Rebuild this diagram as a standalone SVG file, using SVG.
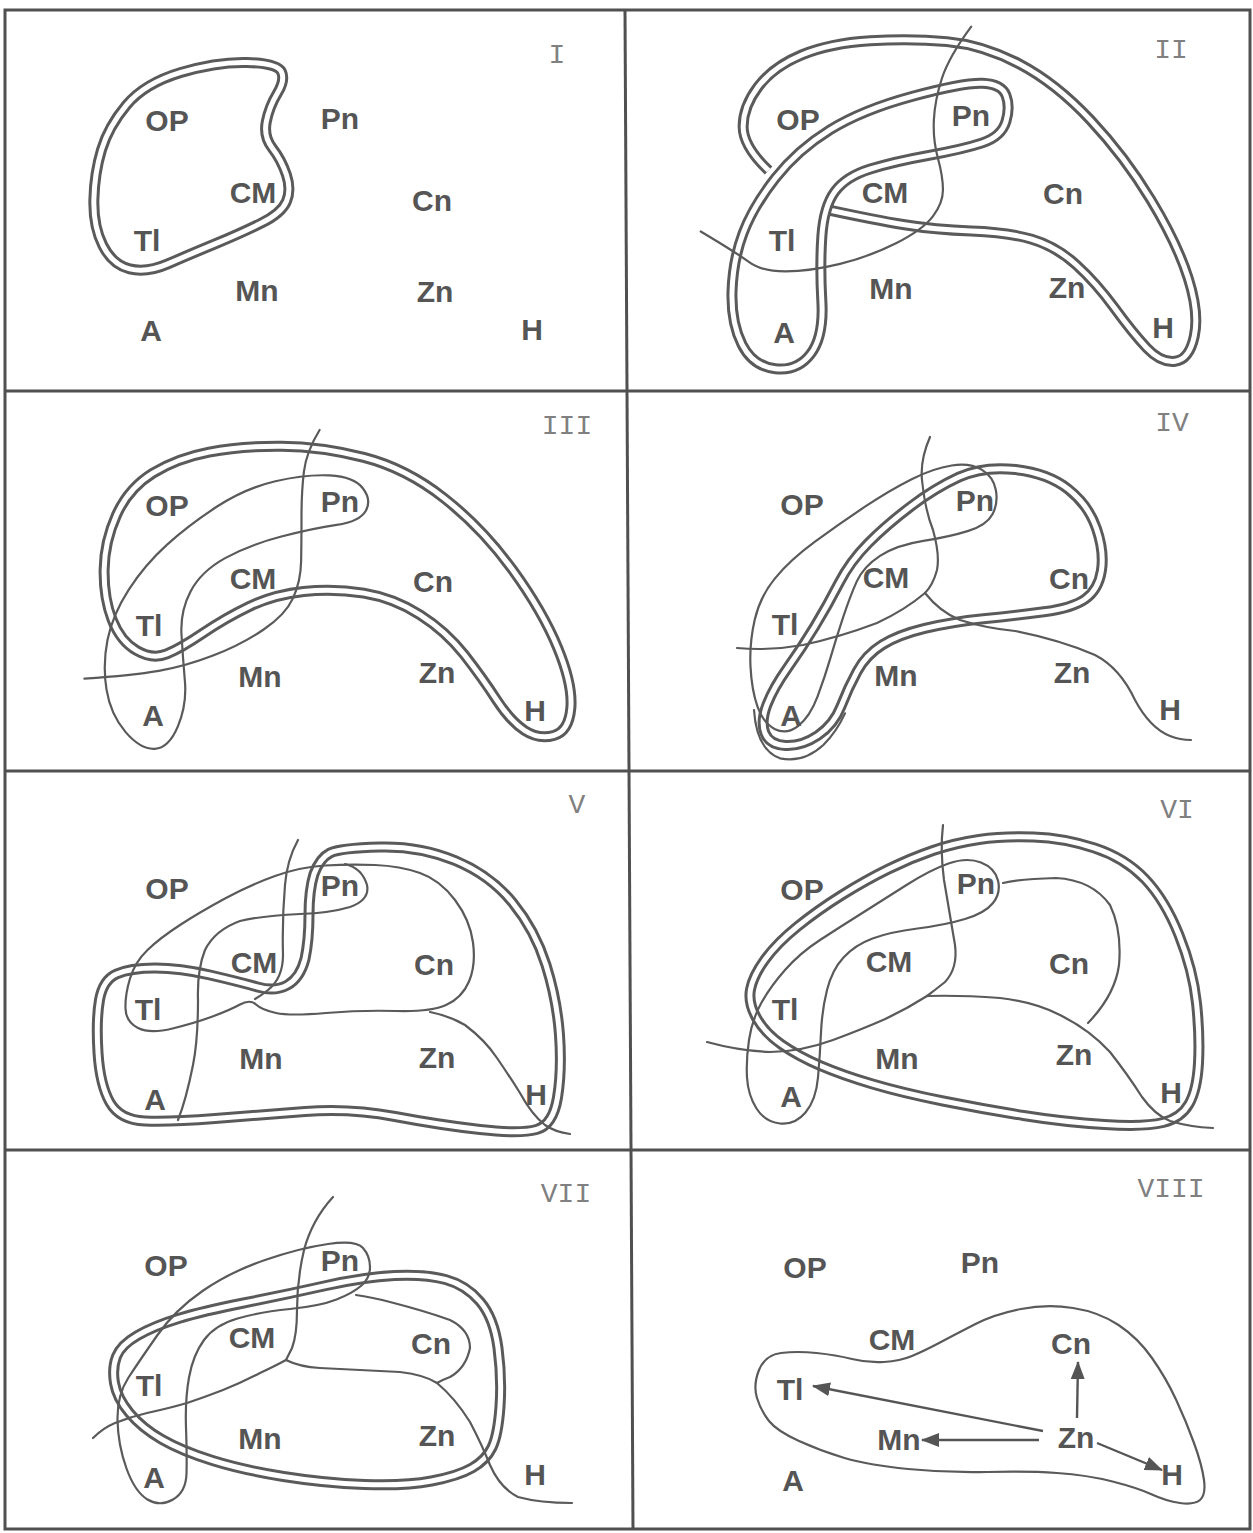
<svg xmlns="http://www.w3.org/2000/svg" width="1253" height="1533" viewBox="0 0 1253 1533">
<style>
.frame{fill:none;stroke:#505050;stroke-width:3}
.dbl{fill:none;stroke:#5a5a5a;stroke-width:11;stroke-linejoin:round}
.dblw{fill:none;stroke:#ffffff;stroke-width:5;stroke-linejoin:round}
.thin{fill:none;stroke:#5a5a5a;stroke-width:2.2;stroke-linejoin:round;stroke-linecap:round}
.lb{font-family:"Liberation Sans",Arial,sans-serif;font-weight:bold;font-size:30px;fill:#555;text-anchor:middle}
.rn{font-family:"Liberation Mono","Courier New",monospace;font-size:28px;fill:#808080;text-anchor:middle}
.arrow{fill:none;stroke:#555;stroke-width:2.4;marker-end:url(#ah)}
</style>
<defs>
<marker id="ah" markerUnits="userSpaceOnUse" markerWidth="18" markerHeight="14" refX="17" refY="7" orient="auto"><path d="M0,0 L18,7 L0,14 Z" fill="#555"/></marker>
<!-- Panel I (zoom coords) -->
<path id="p1t" vector-effect="non-scaling-stroke" d="M 615 187.5 Q 690 190 700 215 Q 710 240 690 280 Q 670 320 662.5 365 Q 655 410 677.5 445 Q 700 480 712.5 525 Q 725 570 712.5 605 Q 700 640 650 670 Q 600 700 535 732.5 Q 470 765 417.5 792.5 Q 365 820 322.5 807.5 Q 280 795 256 737.5 Q 232 680 233.5 600 Q 235 520 252.5 450 Q 270 380 315 315 Q 360 250 450 217.5 Q 540 185 615 187.5 Z"/>
<!-- Panel II -->
<path id="p2a" vector-effect="non-scaling-stroke" d="M 368 512 Q 305 440 305 380 Q 305 320 342.5 260 Q 380 200 450 165 Q 520 130 620 122.5 Q 720 115 810 125 Q 900 135 990 192.5 Q 1080 250 1165 360 Q 1250 470 1315 600 Q 1380 730 1407.5 835 Q 1435 940 1422.5 1010 Q 1410 1080 1375 1085 Q 1340 1090 1305 1045 Q 1270 1000 1225 925 Q 1180 850 1130 795 Q 1080 740 1020 718.5 Q 960 697 870 693.5 Q 780 690 705 675 Q 630 660 515 630"/>
<path id="p2b" vector-effect="non-scaling-stroke" d="M 897.5 250 Q 945 252 956 286 Q 967 320 956 365 Q 945 410 897.5 429 Q 850 448 765 466.5 Q 680 485 620 507.5 Q 560 530 532.5 575 Q 505 620 500 710 Q 495 800 500 905 Q 505 1010 472.5 1062.5 Q 440 1115 385 1107.5 Q 330 1100 302.5 1035 Q 275 970 277.5 875 Q 280 780 305 700 Q 330 620 385 535 Q 440 450 520 390 Q 600 330 725 289 Q 850 248 897.5 250 Z"/>
<!-- Panel III -->
<path id="p3t" vector-effect="non-scaling-stroke" d="M 700 184 Q 800 185 905 217.5 Q 1010 250 1105 340 Q 1200 430 1275 555 Q 1350 680 1387.5 790 Q 1425 900 1420 970 Q 1415 1040 1377.5 1052.5 Q 1340 1065 1305 1037.5 Q 1270 1010 1235 945 Q 1200 880 1155 810 Q 1110 740 1045 690 Q 980 640 905 625 Q 830 610 755 620 Q 680 630 620 665 Q 560 700 505 745 Q 450 790 415 807.5 Q 380 825 340 797.5 Q 300 770 279 705 Q 258 640 259 555 Q 260 470 290 390 Q 320 310 380 265 Q 440 220 520 201.5 Q 600 183 700 184 Z"/>
<!-- Panel IV -->
<path id="p4t" vector-effect="non-scaling-stroke" d="M 980 254 Q 1060 265 1110 312.5 Q 1160 360 1180 430 Q 1200 500 1192.5 557.5 Q 1185 615 1152.5 642.5 Q 1120 670 1050 681 Q 980 692 900 702 Q 820 712 755 731 Q 690 750 650 780 Q 610 810 587.5 860 Q 565 910 547.5 965 Q 530 1020 490 1052.5 Q 450 1085 410 1082.5 Q 370 1080 359 1045 Q 348 1010 364 960 Q 380 910 415 850 Q 450 790 482.5 725 Q 515 660 542.5 595 Q 570 530 615 475 Q 660 420 720 365 Q 780 310 840 276.5 Q 900 243 980 254 Z"/>
<!-- Panel V -->
<path id="p5t" d="M 380 847 Q 420 846 455 860.5 Q 490 875 512.5 902.5 Q 535 930 546 965 Q 557 1000 559.5 1035 Q 562 1070 557.5 1097.5 Q 553 1125 536.5 1129.5 Q 520 1134 480 1129.5 Q 440 1125 395 1116.5 Q 350 1108 305 1111.5 Q 260 1115 215 1118.5 Q 170 1122 145 1121 Q 120 1120 110 1102.5 Q 100 1085 98 1052.5 Q 96 1020 99.5 1000 Q 103 980 116.5 974 Q 130 968 155 968 Q 180 968 210 975 Q 240 982 257.5 987 Q 275 992 287.5 985 Q 300 978 305 959 Q 309 940 309 915 Q 309 890 314 874 Q 320 858 330 853 Q 340 848 380 847 Z"/>
<!-- Panel VI -->
<path id="p6t" d="M 1033.5 837 Q 1064 838 1094.5 848 Q 1125 858 1145 879 Q 1165 900 1179 935 Q 1193 970 1196.5 1003 Q 1200 1036 1198.5 1063 Q 1197 1090 1189 1104 Q 1181 1118 1163 1122.5 Q 1145 1127 1104.5 1124.5 Q 1064 1122 1023.5 1115.5 Q 983 1109 943 1101 Q 903 1093 872.5 1084 Q 842 1075 820 1065.5 Q 798 1056 781.5 1044.5 Q 765 1033 756.5 1018 Q 748 1003 750.5 989.5 Q 753 976 765 959.5 Q 777 943 797.5 926.5 Q 818 910 842 895 Q 866 880 888.5 869 Q 911 858 933 850.5 Q 955 843 979 839.5 Q 1003 836 1033.5 837 Z"/>
<!-- Panel VII -->
<path id="p7t" d="M 394.5 1275.5 Q 425 1274 445.5 1279.5 Q 466 1285 480 1301.5 Q 494 1318 498 1348 Q 502 1378 500 1406.5 Q 498 1435 492 1447.5 Q 486 1460 472 1468 Q 458 1476 431.5 1481 Q 405 1486 364.5 1484.5 Q 324 1483 283.5 1476.5 Q 243 1470 212.5 1460.5 Q 182 1451 162 1439.5 Q 142 1428 129.5 1413 Q 117 1398 114.5 1383 Q 112 1368 116.5 1356.5 Q 121 1345 137.5 1335.5 Q 154 1326 178.5 1318.5 Q 203 1311 243.5 1303 Q 284 1295 324 1286 Q 364 1277 394.5 1275.5 Z"/>
</defs>

<rect width="1253" height="1533" fill="#ffffff"/>

<g id="frame">
<rect class="frame" x="5" y="10" width="1245" height="1519"/>
<line class="frame" x1="625" y1="10" x2="633" y2="1529"/>
<line class="frame" x1="5" y1="391" x2="1250" y2="391"/>
<line class="frame" x1="5" y1="771" x2="1250" y2="771"/>
<line class="frame" x1="5" y1="1150" x2="1250" y2="1150"/>
</g>

<g id="panel-I">
<g transform="translate(0,0) scale(0.402,0.333)">
<use href="#p1t" class="dbl"/><use href="#p1t" class="dblw"/>
</g>
<text class="rn" x="557" y="63">I</text>
<text id="I-OP" class="lb" x="167" y="131">OP</text>
<text id="I-Pn" class="lb" x="340" y="129">Pn</text>
<text id="I-CM" class="lb" x="253" y="203">CM</text>
<text id="I-Cn" class="lb" x="432" y="211">Cn</text>
<text id="I-Tl" class="lb" x="147" y="251">Tl</text>
<text id="I-Mn" class="lb" x="257" y="301">Mn</text>
<text id="I-Zn" class="lb" x="435" y="302">Zn</text>
<text id="I-A" class="lb" x="151" y="341">A</text>
<text id="I-H" class="lb" x="532" y="340">H</text>
</g>

<g id="panel-II">
<g transform="translate(620,0) scale(0.4037,0.333)">
<use href="#p2a" class="dbl"/><use href="#p2a" class="dblw"/>
<use href="#p2b" class="dbl"/><use href="#p2b" class="dblw"/>
<path class="thin" vector-effect="non-scaling-stroke" d="M 870 80 Q 815 170 797.5 235 Q 780 300 777.5 360 Q 775 420 787.5 475 Q 800 530 800 570 Q 800 610 775 650 Q 750 690 685 730 Q 620 770 545 792.5 Q 470 815 410 815 Q 350 815 320 787.5 Q 290 760 200 695"/>
</g>
<text class="rn" x="1171" y="58">II</text>
<text id="II-OP" class="lb" x="798" y="130">OP</text>
<text id="II-Pn" class="lb" x="971" y="126">Pn</text>
<text id="II-CM" class="lb" x="885" y="203">CM</text>
<text id="II-Cn" class="lb" x="1063" y="204">Cn</text>
<text id="II-Tl" class="lb" x="782" y="251">Tl</text>
<text id="II-Mn" class="lb" x="891" y="299">Mn</text>
<text id="II-Zn" class="lb" x="1067" y="298">Zn</text>
<text id="II-A" class="lb" x="784" y="343">A</text>
<text id="II-H" class="lb" x="1163" y="338">H</text>
</g>

<g id="panel-III">
<g transform="translate(0,385) scale(0.402,0.333)">
<use href="#p3t" class="dbl"/><use href="#p3t" class="dblw"/>
<path class="thin" vector-effect="non-scaling-stroke" d="M 820 271.5 Q 880 275 902.5 310 Q 925 345 910 377.5 Q 895 410 837.5 420 Q 780 430 700 455 Q 620 480 560 520 Q 500 560 474 620 Q 448 680 451.5 750 Q 455 820 460 890 Q 465 960 442.5 1025 Q 420 1090 385 1092.5 Q 350 1095 312.5 1042.5 Q 275 990 265 915 Q 255 840 267.5 765 Q 280 690 320 615 Q 360 540 415 480 Q 470 420 540 365 Q 610 310 685 289 Q 760 268 820 271.5 Z"/>
<path class="thin" vector-effect="non-scaling-stroke" d="M 795 135 Q 762 200 756 260 Q 750 320 750 395 Q 750 470 749 530 Q 748 590 729 640 Q 710 690 655 735 Q 600 780 530 812.5 Q 460 845 395 858.5 Q 330 872 210 882"/>
</g>
<text class="rn" x="567" y="434">III</text>
<text id="III-OP" class="lb" x="167" y="516">OP</text>
<text id="III-Pn" class="lb" x="340" y="512">Pn</text>
<text id="III-CM" class="lb" x="253" y="589">CM</text>
<text id="III-Cn" class="lb" x="433" y="592">Cn</text>
<text id="III-Tl" class="lb" x="149" y="636">Tl</text>
<text id="III-Mn" class="lb" x="260" y="687">Mn</text>
<text id="III-Zn" class="lb" x="437" y="683">Zn</text>
<text id="III-A" class="lb" x="153" y="726">A</text>
<text id="III-H" class="lb" x="535" y="721">H</text>
</g>

<g id="panel-IV">
<g transform="translate(620,385) scale(0.4037,0.333)">
<use href="#p4t" class="dbl"/><use href="#p4t" class="dblw"/>
</g>
<g transform="translate(730,430) scale(0.33333)">
<path class="thin" vector-effect="non-scaling-stroke" d="M 755 119 Q 790 140 797.5 180 Q 805 220 787.5 252.5 Q 770 285 715 302.5 Q 660 320 580 332.5 Q 500 345 450 377.5 Q 400 410 380 455 Q 360 500 340 560 Q 320 620 302.5 680 Q 285 740 262.5 800 Q 240 860 205 887.5 Q 170 915 135 897.5 Q 100 880 82.5 830 Q 65 780 61.5 710 Q 58 640 74 570 Q 90 500 135 445 Q 180 390 255 335 Q 330 280 405 230 Q 480 180 545 147.5 Q 610 115 665 106.5 Q 720 98 755 119 Z"/>
<path class="thin" vector-effect="non-scaling-stroke" d="M 72 840 Q 80 960 150 985 Q 220 1000 280 945 Q 320 905 345 850"/>
</g>
<path class="thin" d="M 930 437 Q 920 460 922 480 Q 925 510 933 530 Q 940 555 937 570 Q 933 585 925 593"/>
<path class="thin" d="M 737 648 Q 770 651 803 645 Q 840 637 877 623 Q 905 610 925 593"/>
<path class="thin" d="M 925 593 Q 940 612 960 620 Q 985 628 1015 631 Q 1060 640 1095 655 Q 1120 668 1135 700 Q 1150 728 1170 736 Q 1180 740 1191 740"/>
<text class="rn" x="1172" y="431">IV</text>
<text id="IV-OP" class="lb" x="802" y="515">OP</text>
<text id="IV-Pn" class="lb" x="975" y="511">Pn</text>
<text id="IV-CM" class="lb" x="886" y="588">CM</text>
<text id="IV-Cn" class="lb" x="1069" y="589">Cn</text>
<text id="IV-Tl" class="lb" x="785" y="635">Tl</text>
<text id="IV-Mn" class="lb" x="896" y="686">Mn</text>
<text id="IV-Zn" class="lb" x="1072" y="683">Zn</text>
<text id="IV-A" class="lb" x="791" y="726">A</text>
<text id="IV-H" class="lb" x="1170" y="720">H</text>
</g>

<g id="panel-V">
<use href="#p5t" class="dbl"/><use href="#p5t" class="dblw"/>
<path class="thin" d="M 240 1004.5 Q 230 1010 212.5 1016.5 Q 195 1023 172.5 1028.5 Q 150 1034 138 1028 Q 126 1022 125.5 1008.5 Q 125 995 130 978.5 Q 135 962 147.5 950 Q 160 938 180 925 Q 200 912 225 898.5 Q 250 885 275 876 Q 300 867 325 865.5 Q 350 864 375 865 Q 400 866 420 873 Q 440 880 455 900 Q 470 920 473 942.5 Q 476 965 469 981.5 Q 462 998 446 1005 Q 430 1012 396 1011 Q 362 1010 326 1013 Q 290 1016 276 1013 Q 262 1010 256 1004.5 Q 250 999 240 1004.5 Z"/>
<path class="thin" d="M 345 864 Q 362 868 367 885 Q 370 900 350 907 Q 330 913 300 914 Q 260 916 240 921 Q 215 930 205 950 Q 197 970 198 1000 Q 198 1040 193 1065 Q 186 1100 178 1120"/>
<path class="thin" d="M 298 840 Q 287 860 285 885 Q 282 920 283 955 Q 283 978 268 990 Q 262 995 255 999"/>
<path class="thin" d="M 430 1012 Q 450 1016 465 1025 Q 485 1040 497 1058 Q 510 1077 520 1093 Q 532 1115 545 1125 Q 555 1132 570 1134"/>
<text class="rn" x="577" y="813">V</text>
<text id="V-OP" class="lb" x="167" y="899">OP</text>
<text id="V-Pn" class="lb" x="340" y="896">Pn</text>
<text id="V-CM" class="lb" x="254" y="973">CM</text>
<text id="V-Cn" class="lb" x="434" y="975">Cn</text>
<text id="V-Tl" class="lb" x="148" y="1020">Tl</text>
<text id="V-Mn" class="lb" x="261" y="1069">Mn</text>
<text id="V-Zn" class="lb" x="437" y="1068">Zn</text>
<text id="V-A" class="lb" x="155" y="1110">A</text>
<text id="V-H" class="lb" x="536" y="1105">H</text>
</g>

<g id="panel-VI">
<use href="#p6t" class="dbl"/><use href="#p6t" class="dblw"/>
<path class="thin" d="M 981 862.5 Q 995 868 998 880.5 Q 1001 893 993 903 Q 985 913 965 919 Q 945 925 917.5 928.5 Q 890 932 872.5 938.5 Q 855 945 843.5 957.5 Q 832 970 827 990 Q 822 1010 821 1032.5 Q 820 1055 818 1077.5 Q 816 1100 805.5 1112.5 Q 795 1125 780 1123.5 Q 765 1122 756.5 1108.5 Q 748 1095 747 1077.5 Q 746 1060 749 1040 Q 752 1020 761 1003.5 Q 770 987 785 970 Q 800 953 820 940 Q 840 927 861.5 913.5 Q 883 900 906.5 885 Q 930 870 948.5 863.5 Q 967 857 981 862.5 Z"/>
<path class="thin" d="M 1003 883 Q 1020 879 1056 878 Q 1092 880 1110 905 Q 1122 930 1119 965 Q 1115 995 1088 1023"/>
<path class="thin" d="M 943 825 Q 940 850 944 880 Q 950 915 955 945 Q 958 968 945 982 Q 935 990 927 996"/>
<path class="thin" d="M 927 996 Q 960 995 1000 998 Q 1035 1002 1060 1015 Q 1090 1030 1110 1052 Q 1128 1075 1142 1097 Q 1155 1115 1170 1121 Q 1190 1127 1213 1128"/>
<path class="thin" d="M 707 1042 Q 740 1051 770 1052 Q 800 1052 833 1040 Q 860 1030 883 1020 Q 905 1010 927 996"/>
<text class="rn" x="1177" y="818">VI</text>
<text id="VI-OP" class="lb" x="802" y="900">OP</text>
<text id="VI-Pn" class="lb" x="976" y="894">Pn</text>
<text id="VI-CM" class="lb" x="889" y="972">CM</text>
<text id="VI-Cn" class="lb" x="1069" y="974">Cn</text>
<text id="VI-Tl" class="lb" x="785" y="1020">Tl</text>
<text id="VI-Mn" class="lb" x="897" y="1069">Mn</text>
<text id="VI-Zn" class="lb" x="1074" y="1065">Zn</text>
<text id="VI-A" class="lb" x="791" y="1107">A</text>
<text id="VI-H" class="lb" x="1171" y="1103">H</text>
</g>

<g id="panel-VII">
<use href="#p7t" class="dbl"/><use href="#p7t" class="dblw"/>
<path class="thin" d="M 363 1248 Q 370 1256 370 1267 Q 370 1278 361.5 1285.5 Q 353 1293 336.5 1299.5 Q 320 1306 290 1309 Q 260 1312 237.5 1318.5 Q 215 1325 204 1340 Q 193 1355 189 1377.5 Q 185 1400 186 1427.5 Q 187 1455 186.5 1473.5 Q 186 1492 173 1499.5 Q 160 1507 147.5 1499.5 Q 135 1492 126.5 1468.5 Q 118 1445 117.5 1420 Q 117 1395 128.5 1377.5 Q 140 1360 157.5 1335 Q 175 1310 202.5 1291 Q 230 1272 265 1260 Q 300 1248 328 1244 Q 356 1240 363 1248 Z"/>
<path class="thin" d="M 333 1197 Q 312 1220 304 1250 Q 297 1280 297 1310 Q 297 1335 292 1348 Q 288 1356 286 1360"/>
<path class="thin" d="M 286 1360 Q 300 1367 320 1368 Q 360 1370 400 1372 Q 425 1375 437 1383 Q 455 1398 470 1422 Q 482 1445 490 1465 Q 500 1488 518 1497 Q 540 1503 572 1503"/>
<path class="thin" d="M 356 1295 Q 375 1298 390 1302 Q 425 1311 450 1320 Q 470 1330 470 1348 Q 466 1368 450 1377 Q 442 1380 437 1383"/>
<path class="thin" d="M 93 1438 Q 103 1428 115 1423 Q 130 1417 147 1413 Q 170 1408 187 1403 Q 205 1397 223 1390 Q 243 1382 260 1373 Q 275 1366 286 1360"/>
<text class="rn" x="566" y="1202">VII</text>
<text id="VII-OP" class="lb" x="166" y="1276">OP</text>
<text id="VII-Pn" class="lb" x="340" y="1271">Pn</text>
<text id="VII-CM" class="lb" x="252" y="1348">CM</text>
<text id="VII-Cn" class="lb" x="431" y="1354">Cn</text>
<text id="VII-Tl" class="lb" x="149" y="1396">Tl</text>
<text id="VII-Mn" class="lb" x="260" y="1449">Mn</text>
<text id="VII-Zn" class="lb" x="437" y="1446">Zn</text>
<text id="VII-A" class="lb" x="154" y="1488">A</text>
<text id="VII-H" class="lb" x="535" y="1485">H</text>
</g>

<g id="panel-VIII">
<path class="thin" d="M 781 1353 Q 797 1351 816.5 1353 Q 836 1355 852 1359 Q 868 1363 884 1362 Q 900 1361 912 1356 Q 924 1351 940 1342.5 Q 956 1334 975.5 1324 Q 995 1314 1021 1309 Q 1047 1304 1073 1308 Q 1099 1312 1118.5 1325 Q 1138 1338 1152 1358 Q 1166 1378 1176 1399.5 Q 1186 1421 1194 1443 Q 1202 1465 1204 1480 Q 1206 1495 1200 1500 Q 1194 1505 1180 1503 Q 1166 1501 1152 1494.5 Q 1138 1488 1112.5 1481.5 Q 1087 1475 1057 1473 Q 1027 1471 987.5 1472 Q 948 1473 908 1469 Q 868 1465 844.5 1458 Q 821 1451 799 1441 Q 777 1431 769 1421 Q 761 1411 757 1398 Q 753 1385 759 1370 Q 765 1355 781 1353 Z"/>
<text class="rn" x="1171" y="1197">VIII</text>
<text id="VIII-OP" class="lb" x="805" y="1278">OP</text>
<text id="VIII-Pn" class="lb" x="980" y="1273">Pn</text>
<text id="VIII-CM" class="lb" x="892" y="1350">CM</text>
<text id="VIII-Cn" class="lb" x="1071" y="1354">Cn</text>
<text id="VIII-Tl" class="lb" x="790" y="1400">Tl</text>
<text id="VIII-Mn" class="lb" x="899" y="1450">Mn</text>
<text id="VIII-Zn" class="lb" x="1076" y="1448">Zn</text>
<text id="VIII-A" class="lb" x="793" y="1491">A</text>
<text id="VIII-H" class="lb" x="1172" y="1485">H</text>
</g>

<g id="connectors">
<path class="arrow" d="M 1077 1418 L 1078 1362"/>
<path class="arrow" d="M 1043 1431 L 813 1386"/>
<path class="arrow" d="M 1039 1440 L 922 1440"/>
<path class="arrow" d="M 1097 1443 L 1162 1470"/>
</g>
</svg>
